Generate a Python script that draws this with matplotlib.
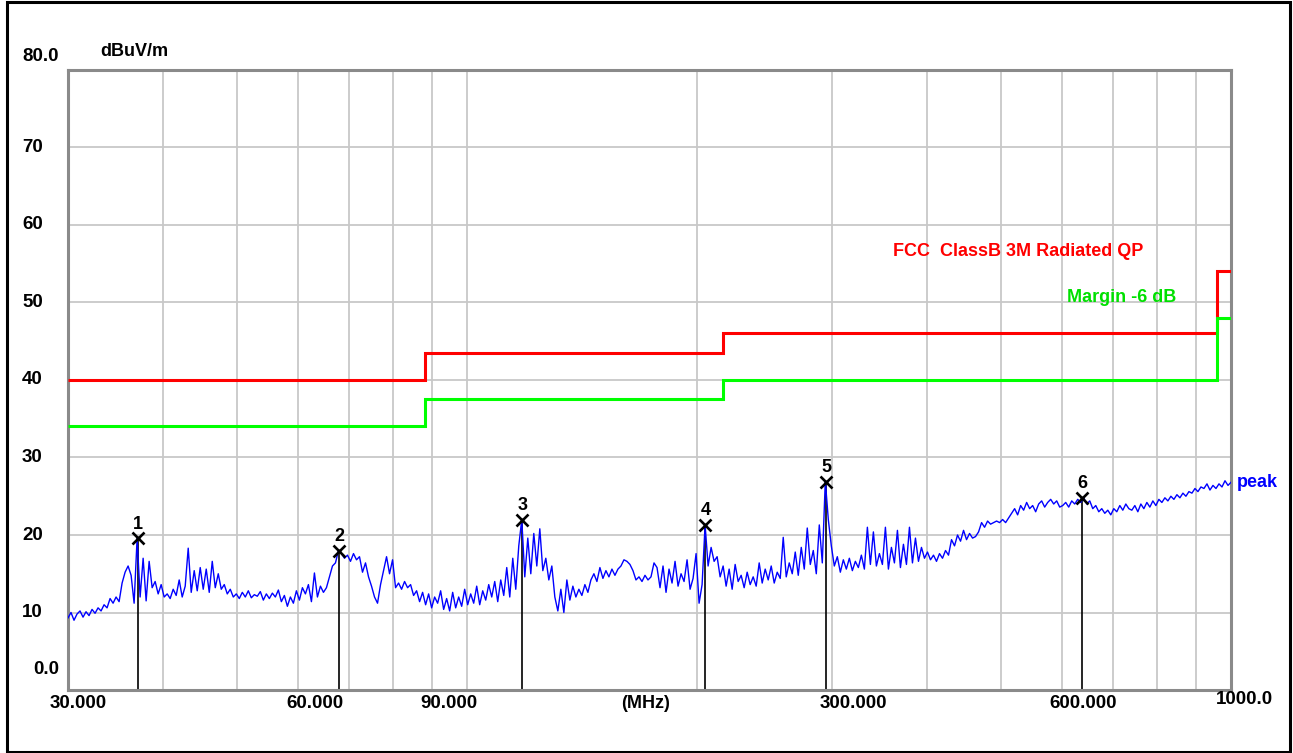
import numpy as np
import matplotlib
matplotlib.use("Agg")
import matplotlib.pyplot as plt
from matplotlib.patches import Rectangle

# ---------------- data ----------------
f_start, f_stop = 30.0, 1000.0
y_min, y_max = 0.0, 80.0

# FCC Class B 3m QP limit (step edges in MHz, level in dBuV/m)
limit_edges = [30, 88, 216, 960, 1000]
limit_vals = [40.0, 43.5, 46.0, 54.0]
margin_db = -6.0

# peak trace (sweep points equally spaced on log axis)
peak_db = [
    9.3, 10.0, 9.0, 9.8, 10.2, 9.4, 10.1, 9.6, 10.4, 9.9, 10.6, 10.2,
    11.0, 10.6, 11.8, 11.2, 12.0, 11.4,
    13.8, 15.2, 16.0, 14.8, 11.2, 19.6, 12.0, 17.0, 11.5, 16.6, 13.2, 14.0,
    12.4, 13.6, 12.0, 12.4, 11.8, 13.0, 12.2, 14.2, 12.0, 13.4, 18.3, 12.6,
    15.4, 12.8, 15.8, 13.0, 15.6, 12.6, 16.6, 13.2, 15.0, 13.0, 13.6, 12.4,
    13.0, 12.0,
    12.4, 11.8, 12.6, 12.0, 12.8, 11.9, 12.3, 12.1, 12.7, 11.6, 12.4, 11.8,
    12.5, 12.0, 12.9, 11.4, 12.2, 10.8, 12.0, 11.2,
    12.8, 11.6, 13.2, 12.4, 13.6, 11.4, 15.1, 12.0, 13.4, 12.6, 13.2, 14.6,
    16.0, 16.4, 18.0, 17.6, 17.0, 17.4, 16.6, 17.6, 16.8, 17.2, 15.2, 16.4,
    14.6, 13.4, 12.0, 11.2, 13.6, 15.4, 17.2, 15.0, 16.8, 13.2, 13.8, 13.0,
    14.0, 13.2, 13.6, 12.2, 12.8, 11.4, 12.6, 11.0, 12.4, 10.6, 12.0, 11.2,
    12.8, 10.4, 11.8, 10.2, 12.6, 10.6, 12.0, 10.8, 13.0, 11.0, 12.4, 11.2,
    13.4, 11.0, 12.8, 11.6, 13.6, 12.0, 14.0, 11.4, 14.2, 12.2, 15.8, 12.0,
    17.0, 13.0, 18.6, 22.0, 14.6, 19.6, 15.0, 20.2, 16.0, 20.8, 15.4, 17.0,
    14.2, 16.0, 12.0, 10.2, 13.0, 10.0, 14.2, 11.6, 13.4, 12.0, 13.0, 12.2,
    13.6, 12.6, 14.2, 15.0, 14.0, 15.8, 14.4, 15.4, 14.6, 15.6, 14.8, 15.6,
    16.0, 16.8, 16.6, 16.2, 15.4, 14.2, 14.6, 14.0, 14.8, 14.2, 14.6, 16.4,
    15.8, 13.2, 16.0, 12.6, 15.6, 13.8, 16.6, 13.4, 15.0, 14.0, 16.8, 13.0,
    14.4, 17.6, 11.2, 13.6, 21.3, 16.0, 18.4, 16.6, 17.2, 14.6, 16.0, 13.4,
    15.6, 13.0, 16.2, 14.0, 14.8, 13.2, 15.2, 13.6, 14.6, 13.4, 16.4, 13.8,
    15.6, 14.2, 16.0, 13.8, 15.2, 14.4, 19.7, 14.6, 16.4, 15.0, 17.8, 14.8,
    18.4, 15.6, 20.9, 16.2, 18.0, 15.0, 21.3, 16.4, 27.0, 22.0, 18.6, 16.0,
    17.2, 15.2, 16.8, 15.6, 17.0, 15.4, 16.6, 15.8, 17.4, 15.6, 21.0, 16.2,
    20.4, 16.0, 17.6, 16.2, 21.0, 15.6, 18.4, 16.4, 20.6, 15.8, 18.8, 16.2,
    21.0, 16.4, 19.6, 16.6, 18.4, 17.0, 17.8, 16.8, 17.4, 16.6, 17.6, 17.0,
    18.0, 17.4, 19.4, 18.6, 20.0, 19.2, 20.6, 19.4, 20.2, 19.6, 19.8, 20.4,
    21.6, 21.0, 21.8, 21.4, 21.6, 21.8, 21.6, 22.0, 21.6, 22.2, 22.8, 23.4,
    22.6, 23.8, 23.2, 24.2, 23.4, 23.8, 23.0, 24.0, 24.4, 23.6, 24.2, 24.6,
    24.0, 24.4, 23.6, 23.8, 24.2, 23.6, 24.4, 24.0, 24.6, 24.2, 24.8, 24.0,
    24.4, 23.4, 23.8, 23.0, 23.4, 22.8, 23.2, 22.6, 23.4, 23.0, 23.8, 23.2,
    24.0, 23.4, 23.2, 23.8, 23.0, 24.0, 23.4, 24.2, 23.6, 24.4, 23.8, 24.6,
    24.2, 24.8, 24.4, 25.0, 24.6, 25.2, 24.8, 25.4, 25.0, 25.6, 25.4, 26.0,
    25.6, 26.2, 26.0, 26.6, 25.8, 26.4, 26.0, 26.6, 26.2, 27.0, 26.4, 26.8,
]

# markers
marker_ids = ["1", "2", "3", "4", "5", "6"]
marker_freq = [37.0, 68.0, 118.0, 205.0, 295.0, 639.0]
marker_db = [19.6, 18.0, 22.0, 21.3, 26.9, 24.8]

# axes ticks / labels
x_grid = [40, 50, 60, 70, 80, 90, 100, 200, 300, 400, 500, 600, 700, 800, 900]
x_label_freq = [30, 60, 90, 300, 600, 1000]
x_label_text = ["30.000", "60.000", "90.000", "300.000", "600.000", "1000.0"]
y_ticks = [0, 10, 20, 30, 40, 50, 60, 70, 80]
y_label_text = ["0.0", "10", "20", "30", "40", "50", "60", "70", "80.0"]

limit_label = "FCC  ClassB 3M Radiated QP"
margin_label = "Margin -6 dB"
trace_label = "peak"
unit_y = "dBuV/m"
unit_x = "(MHz)"

# ---------------- figure ----------------
W, H = 1293, 753
fig = plt.figure(figsize=(W / 100, H / 100), dpi=100)
fig.patch.set_facecolor("white")
plt.rcParams["font.family"] = ["Liberation Sans", "DejaVu Sans"]

L, R, T, B = 68, 1231, 70, 690
ax = fig.add_axes([L / W, 1 - B / H, (R - L) / W, (B - T) / H])
ax.set_xscale("log")
ax.set_xlim(f_start, f_stop)
ax.set_ylim(y_min, y_max)

for s in ax.spines.values():
    s.set_color("#8a8a8a")
    s.set_linewidth(2.2)

ax.set_xticks(x_grid)
ax.set_xticks([], minor=True)
ax.set_yticks(y_ticks)
ax.set_xticklabels([])
ax.set_yticklabels([])
ax.tick_params(length=0, which="both")
ax.grid(True, color="#c8c8c8", linewidth=1.3)
ax.set_axisbelow(True)

FS = 13
font = dict(fontsize=FS, fontweight="bold")

# limit & margin lines
ax.stairs(limit_vals, limit_edges, color="#ff0000", linewidth=2.2, baseline=None, zorder=3)
ax.stairs(np.array(limit_vals) + margin_db, limit_edges, color="#00ff00",
          linewidth=2.2, baseline=None, zorder=3)

# marker stems
for f, v in zip(marker_freq, marker_db):
    ax.vlines(f, y_min, v, color="black", linewidth=1.2, zorder=2)

# trace
freqs = np.geomspace(f_start, f_stop, len(peak_db))
ax.plot(freqs, peak_db, color="#0000ff", linewidth=1.0, zorder=4)

# marker symbols and numbers
ax.plot(marker_freq, marker_db, linestyle="none", marker="x", color="black",
        markersize=9, markeredgewidth=1.9, zorder=5)
for lab, f, v in zip(marker_ids, marker_freq, marker_db):
    ax.annotate(lab, (f, v), xytext=(0, 4), textcoords="offset points",
                ha="center", va="bottom", zorder=6, **font)

# legend-like texts
ax.text(361, 56.6, limit_label, color="#ff0000", ha="left", va="center", **font)
ax.text(610, 50.7, margin_label, color="#00e000", ha="left", va="center", **font)
ax.annotate(trace_label, (f_stop, peak_db[-1]), xytext=(4, 0), textcoords="offset points",
            ha="left", va="center", color="#0000ff", annotation_clip=False, **font)

# x labels
px = 72 / 100  # points per pixel
for f, t in zip(x_label_freq, x_label_text):
    dx = -12
    dy = -13
    if f == x_label_freq[0]:
        dx = -18
    if f == x_label_freq[-1]:
        dx, dy = -15, -10
    ax.annotate(t, (f, 0), xycoords=("data", "axes fraction"), xytext=(dx * px, dy * px),
                textcoords="offset points", ha="left", va="center",
                annotation_clip=False, fontsize=13.5, fontweight="bold")
ax.annotate(unit_x, (171, 0), xycoords=("data", "axes fraction"), xytext=(0, -13 * px),
            textcoords="offset points", ha="center", va="center",
            annotation_clip=False, **font)

# y labels
for v, t in zip(y_ticks, y_label_text):
    dx, dy = -46, 0
    if v == y_ticks[0]:
        dx, dy = -35, 20
    if v == y_ticks[-1]:
        dy = 13
    ax.annotate(t, (0, v), xycoords=("axes fraction", "data"), xytext=(dx * px, dy * px),
                textcoords="offset points", ha="left", va="center",
                annotation_clip=False, fontsize=13.5, fontweight="bold")
ax.annotate(unit_y, (0, 1), xycoords="axes fraction", xytext=(32 * px, 18 * px),
            textcoords="offset points", ha="left", va="center",
            annotation_clip=False, fontsize=13, fontweight="bold")

# outer frame
fig.patches.append(Rectangle((7 / W, 1 / H), (1290 - 7) / W, (751 - 1) / H,
                             transform=fig.transFigure, fill=False,
                             edgecolor="black", linewidth=2.2))

fig.savefig("out.png", dpi=100)
